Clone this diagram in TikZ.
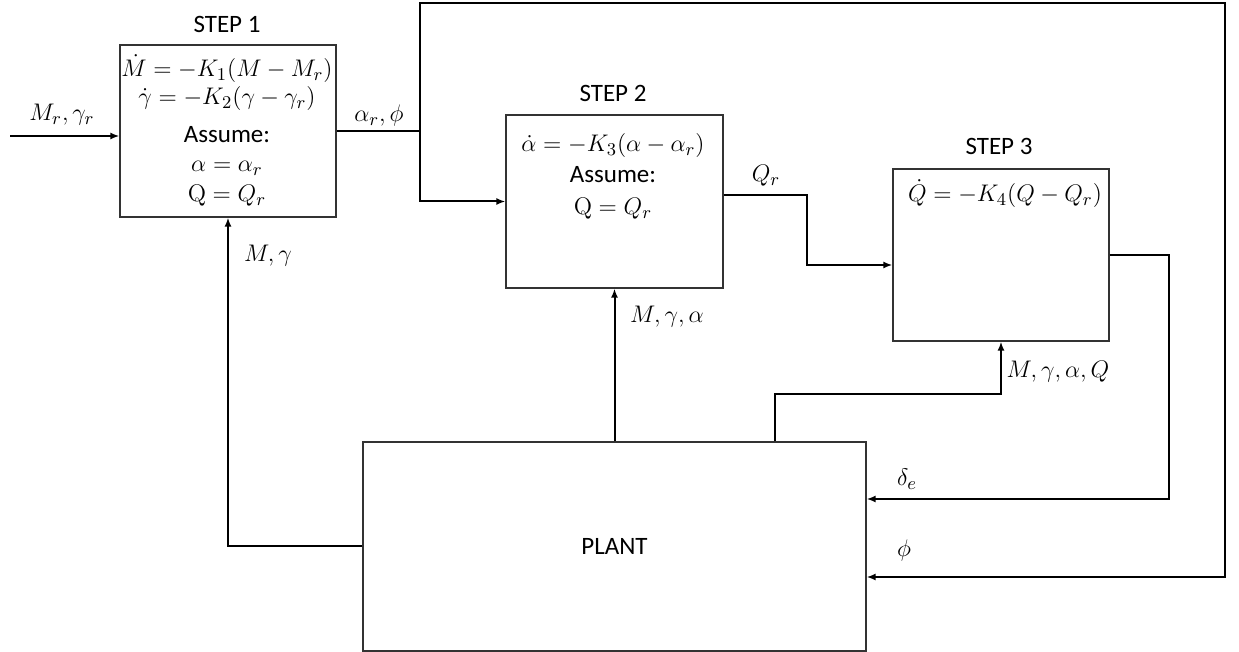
\documentclass[tikz,border=0pt]{standalone}
\usepackage[no-math]{fontspec}
\setmainfont{Carlito}
\usetikzlibrary{arrows.meta, positioning, calc}
\tikzset{
  every picture/.style={line width=1pt},
  block/.style={draw=black!80, line width=0.6pt, minimum width=108pt, minimum height=86pt, inner sep=0pt},
  arrow/.style={-{Latex[length=4.5pt, width=3.5pt]}, line width=1pt},
  wire/.style={line width=1pt},
  title/.style={font=\fontsize{12.5}{15}\selectfont, anchor=base, inner sep=0pt},
  eqn/.style={font=\fontsize{12.5}{15}\selectfont, anchor=base, inner sep=0pt, text height=8pt, text depth=2pt},
  lbl/.style={font=\fontsize{12.5}{15}\selectfont, anchor=base, inner sep=0pt},
}

\begin{document}
\begin{tikzpicture}[x=0.5pt, y=-0.5pt]
  \useasboundingbox (0,0) rectangle (1239,652);
  % ---------- blocks ----------
  \node[block] (step1) at (228,131) {};
  \node[block, minimum width=108.5pt, minimum height=86.5pt] (step2) at (614.5,201.5) {};
  \node[block] (step3) at (1001,255) {};
  \node[block, minimum width=251.5pt, minimum height=104.5pt, font=\fontsize{12.5}{15}\selectfont] (plant) at (614.5,546.5) {PLANT};
  \node[title] (t1) at (227,33) {STEP 1};
  \node[title] (t2) at (613,102) {STEP 2};
  \node[title] (t3) at (999,155) {STEP 3};
  % ---------- contents ----------
  \foreach \y/\txt [count=\i] in {77/{$\dot{M} = -K_1(M-M_r)$}, 105/{$\dot{\gamma} = -K_2(\gamma-\gamma_r)$}, 143/{Assume:}, 172/{$\alpha = \alpha_r$}, 202/{$\mathrm{Q} = Q_r$}}
    \node[eqn] (s1l\i) at (227,\y) {\txt};
  \foreach \y/\txt [count=\i] in {152/{$\dot{\alpha} = -K_3(\alpha-\alpha_r)$}, 183/{Assume:}, 215/{$\mathrm{Q} = Q_r$}}
    \node[eqn] (s2l\i) at (613,\y) {\txt};
  \node[eqn] (s3l1) at (1005,202) {$\dot{Q} = -K_4(Q-Q_r)$};
  % ---------- connectors ----------
  \coordinate (in) at (10,136);
  \draw[arrow] (in) -- (in -| step1.west);
  \coordinate (split) at (420,131);
  \coordinate (topR) at (1225,3);
  \coordinate (phiy) at (0,577);
  \draw[wire] (step1.east) -- (split);
  \draw[arrow] (split) |- (topR) |- (plant.east |- phiy);
  \draw[arrow] (split) |- (step2.west);
  \coordinate (qbend) at (807,230);
  \draw[arrow] ([yshift=3.25pt]step2.east) -| (qbend) |- ([yshift=-5pt]step3.west);
  \coordinate (dbend) at (1169,400);
  \coordinate (dely) at (0,499);
  \draw[arrow] (step3.east) -| (dbend) |- (plant.east |- dely);
  \draw[arrow] (plant.west) -| (step1.south);
  \draw[arrow] (plant.north) -- (step2.south);
  \coordinate (mq) at (775,394);
  \draw[arrow] (plant.north -| mq) -- (mq) -| (step3.south);
  % ---------- labels ----------
  \node[lbl] (l_in) at (62,121) {$M_r, \gamma_r$};
  \node[lbl] (l_ar) at (379,122) {$\alpha_r, \phi$};
  \node[lbl] (l_mg) at (268,262) {$M, \gamma$};
  \node[lbl] (l_qr) at (766,182) {$Q_r$};
  \node[lbl] (l_mga) at (667,323) {$M, \gamma, \alpha$};
  \node[lbl] (l_mgaq) at (1058,378) {$M, \gamma, \alpha, Q$};
  \node[lbl] (l_de) at (907,486) {$\delta_e$};
  \node[lbl] (l_phi) at (904,557) {$\phi$};
\end{tikzpicture}
\end{document}
